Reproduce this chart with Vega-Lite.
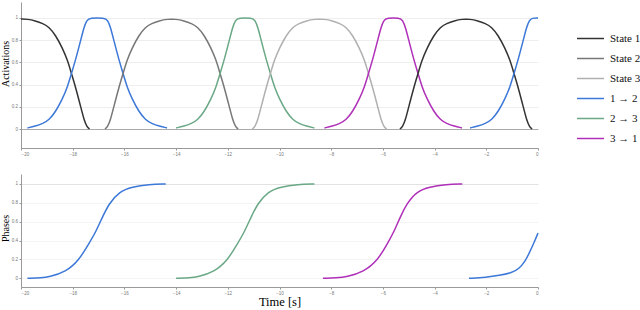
{
"$schema": "https://vega.github.io/schema/vega-lite/v6.json",
"padding": {"left": 0, "top": 2, "right": 0, "bottom": 0},
"background": "white",
"spacing": 26,
"bounds": "flush",
"config": {
  "font": "Liberation Serif",
  "view": {"stroke": null},
  "style": {"guide-label": {"font": "Liberation Serif"}},
  "axis": {"labelFont": "Liberation Sans", "labelFontSize": 4.5, "labelColor": "#777", "domainColor": "#999", "tickColor": "#999", "tickSize": 2, "labelPadding": 1.5, "titleFont": "Liberation Serif", "titleFontWeight": "normal", "titleColor": "#000", "format": "~g"},
  "legend": {"labelFont": "Liberation Serif", "labelFontSize": 11, "labelColor": "#111"},
  "line": {"strokeWidth": 1.5, "interpolate": "basis"}
},
"datasets": {
"act": [
{"t":-20,"v":0.99,"s":"State 1","g":"s1a"},{"t":-19.75,"v":0.99,"s":"State 1","g":"s1a"},{"t":-19.45,"v":0.975,"s":"State 1","g":"s1a"},{"t":-19.15,"v":0.95,"s":"State 1","g":"s1a"},{"t":-18.92,"v":0.92,"s":"State 1","g":"s1a"},{"t":-18.66,"v":0.844,"s":"State 1","g":"s1a"},{"t":-18.4,"v":0.73,"s":"State 1","g":"s1a"},{"t":-18.2,"v":0.62,"s":"State 1","g":"s1a"},{"t":-18.05,"v":0.5,"s":"State 1","g":"s1a"},{"t":-17.88,"v":0.37,"s":"State 1","g":"s1a"},{"t":-17.69,"v":0.2,"s":"State 1","g":"s1a"},{"t":-17.56,"v":0.08,"s":"State 1","g":"s1a"},{"t":-17.45,"v":0.02,"s":"State 1","g":"s1a"},{"t":-17.35,"v":0,"s":"State 1","g":"s1a"},
{"t":-19.75,"v":0.01,"s":"1 → 2","g":"b1"},{"t":-19.45,"v":0.025,"s":"1 → 2","g":"b1"},{"t":-19.15,"v":0.05,"s":"1 → 2","g":"b1"},{"t":-18.92,"v":0.08,"s":"1 → 2","g":"b1"},{"t":-18.66,"v":0.156,"s":"1 → 2","g":"b1"},{"t":-18.4,"v":0.27,"s":"1 → 2","g":"b1"},{"t":-18.2,"v":0.38,"s":"1 → 2","g":"b1"},{"t":-18.05,"v":0.5,"s":"1 → 2","g":"b1"},{"t":-17.88,"v":0.63,"s":"1 → 2","g":"b1"},{"t":-17.69,"v":0.8,"s":"1 → 2","g":"b1"},{"t":-17.56,"v":0.92,"s":"1 → 2","g":"b1"},{"t":-17.45,"v":0.98,"s":"1 → 2","g":"b1"},{"t":-17.35,"v":1,"s":"1 → 2","g":"b1"},{"t":-16.75,"v":1,"s":"1 → 2","g":"b1"},{"t":-16.65,"v":0.98,"s":"1 → 2","g":"b1"},{"t":-16.54,"v":0.92,"s":"1 → 2","g":"b1"},{"t":-16.41,"v":0.8,"s":"1 → 2","g":"b1"},{"t":-16.22,"v":0.63,"s":"1 → 2","g":"b1"},{"t":-16.05,"v":0.5,"s":"1 → 2","g":"b1"},{"t":-15.9,"v":0.38,"s":"1 → 2","g":"b1"},{"t":-15.7,"v":0.27,"s":"1 → 2","g":"b1"},{"t":-15.44,"v":0.156,"s":"1 → 2","g":"b1"},{"t":-15.18,"v":0.08,"s":"1 → 2","g":"b1"},{"t":-14.95,"v":0.05,"s":"1 → 2","g":"b1"},{"t":-14.65,"v":0.025,"s":"1 → 2","g":"b1"},{"t":-14.35,"v":0.01,"s":"1 → 2","g":"b1"},
{"t":-16.75,"v":0,"s":"State 2","g":"s2"},{"t":-16.65,"v":0.02,"s":"State 2","g":"s2"},{"t":-16.54,"v":0.08,"s":"State 2","g":"s2"},{"t":-16.41,"v":0.2,"s":"State 2","g":"s2"},{"t":-16.22,"v":0.37,"s":"State 2","g":"s2"},{"t":-16.05,"v":0.5,"s":"State 2","g":"s2"},{"t":-15.9,"v":0.62,"s":"State 2","g":"s2"},{"t":-15.7,"v":0.73,"s":"State 2","g":"s2"},{"t":-15.44,"v":0.844,"s":"State 2","g":"s2"},{"t":-15.18,"v":0.92,"s":"State 2","g":"s2"},{"t":-14.95,"v":0.95,"s":"State 2","g":"s2"},{"t":-14.65,"v":0.975,"s":"State 2","g":"s2"},{"t":-14.35,"v":0.99,"s":"State 2","g":"s2"},{"t":-14.0,"v":0.99,"s":"State 2","g":"s2"},{"t":-13.7,"v":0.975,"s":"State 2","g":"s2"},{"t":-13.4,"v":0.95,"s":"State 2","g":"s2"},{"t":-13.17,"v":0.92,"s":"State 2","g":"s2"},{"t":-12.91,"v":0.844,"s":"State 2","g":"s2"},{"t":-12.65,"v":0.73,"s":"State 2","g":"s2"},{"t":-12.45,"v":0.62,"s":"State 2","g":"s2"},{"t":-12.3,"v":0.5,"s":"State 2","g":"s2"},{"t":-12.13,"v":0.37,"s":"State 2","g":"s2"},{"t":-11.94,"v":0.2,"s":"State 2","g":"s2"},{"t":-11.81,"v":0.08,"s":"State 2","g":"s2"},{"t":-11.7,"v":0.02,"s":"State 2","g":"s2"},{"t":-11.6,"v":0,"s":"State 2","g":"s2"},
{"t":-14.0,"v":0.01,"s":"2 → 3","g":"g1"},{"t":-13.7,"v":0.025,"s":"2 → 3","g":"g1"},{"t":-13.4,"v":0.05,"s":"2 → 3","g":"g1"},{"t":-13.17,"v":0.08,"s":"2 → 3","g":"g1"},{"t":-12.91,"v":0.156,"s":"2 → 3","g":"g1"},{"t":-12.65,"v":0.27,"s":"2 → 3","g":"g1"},{"t":-12.45,"v":0.38,"s":"2 → 3","g":"g1"},{"t":-12.3,"v":0.5,"s":"2 → 3","g":"g1"},{"t":-12.13,"v":0.63,"s":"2 → 3","g":"g1"},{"t":-11.94,"v":0.8,"s":"2 → 3","g":"g1"},{"t":-11.81,"v":0.92,"s":"2 → 3","g":"g1"},{"t":-11.7,"v":0.98,"s":"2 → 3","g":"g1"},{"t":-11.6,"v":1,"s":"2 → 3","g":"g1"},{"t":-11.05,"v":1,"s":"2 → 3","g":"g1"},{"t":-10.95,"v":0.98,"s":"2 → 3","g":"g1"},{"t":-10.84,"v":0.92,"s":"2 → 3","g":"g1"},{"t":-10.71,"v":0.8,"s":"2 → 3","g":"g1"},{"t":-10.52,"v":0.63,"s":"2 → 3","g":"g1"},{"t":-10.35,"v":0.5,"s":"2 → 3","g":"g1"},{"t":-10.2,"v":0.38,"s":"2 → 3","g":"g1"},{"t":-10.0,"v":0.27,"s":"2 → 3","g":"g1"},{"t":-9.74,"v":0.156,"s":"2 → 3","g":"g1"},{"t":-9.48,"v":0.08,"s":"2 → 3","g":"g1"},{"t":-9.25,"v":0.05,"s":"2 → 3","g":"g1"},{"t":-8.95,"v":0.025,"s":"2 → 3","g":"g1"},{"t":-8.65,"v":0.01,"s":"2 → 3","g":"g1"},
{"t":-11.05,"v":0,"s":"State 3","g":"s3"},{"t":-10.95,"v":0.02,"s":"State 3","g":"s3"},{"t":-10.84,"v":0.08,"s":"State 3","g":"s3"},{"t":-10.71,"v":0.2,"s":"State 3","g":"s3"},{"t":-10.52,"v":0.37,"s":"State 3","g":"s3"},{"t":-10.35,"v":0.5,"s":"State 3","g":"s3"},{"t":-10.2,"v":0.62,"s":"State 3","g":"s3"},{"t":-10.0,"v":0.73,"s":"State 3","g":"s3"},{"t":-9.74,"v":0.844,"s":"State 3","g":"s3"},{"t":-9.48,"v":0.92,"s":"State 3","g":"s3"},{"t":-9.25,"v":0.95,"s":"State 3","g":"s3"},{"t":-8.95,"v":0.975,"s":"State 3","g":"s3"},{"t":-8.65,"v":0.99,"s":"State 3","g":"s3"},{"t":-8.26,"v":0.99,"s":"State 3","g":"s3"},{"t":-7.96,"v":0.975,"s":"State 3","g":"s3"},{"t":-7.66,"v":0.95,"s":"State 3","g":"s3"},{"t":-7.43,"v":0.92,"s":"State 3","g":"s3"},{"t":-7.17,"v":0.844,"s":"State 3","g":"s3"},{"t":-6.91,"v":0.73,"s":"State 3","g":"s3"},{"t":-6.71,"v":0.62,"s":"State 3","g":"s3"},{"t":-6.56,"v":0.5,"s":"State 3","g":"s3"},{"t":-6.39,"v":0.37,"s":"State 3","g":"s3"},{"t":-6.2,"v":0.2,"s":"State 3","g":"s3"},{"t":-6.07,"v":0.08,"s":"State 3","g":"s3"},{"t":-5.96,"v":0.02,"s":"State 3","g":"s3"},{"t":-5.86,"v":0,"s":"State 3","g":"s3"},
{"t":-8.26,"v":0.01,"s":"3 → 1","g":"m1"},{"t":-7.96,"v":0.025,"s":"3 → 1","g":"m1"},{"t":-7.66,"v":0.05,"s":"3 → 1","g":"m1"},{"t":-7.43,"v":0.08,"s":"3 → 1","g":"m1"},{"t":-7.17,"v":0.156,"s":"3 → 1","g":"m1"},{"t":-6.91,"v":0.27,"s":"3 → 1","g":"m1"},{"t":-6.71,"v":0.38,"s":"3 → 1","g":"m1"},{"t":-6.56,"v":0.5,"s":"3 → 1","g":"m1"},{"t":-6.39,"v":0.63,"s":"3 → 1","g":"m1"},{"t":-6.2,"v":0.8,"s":"3 → 1","g":"m1"},{"t":-6.07,"v":0.92,"s":"3 → 1","g":"m1"},{"t":-5.96,"v":0.98,"s":"3 → 1","g":"m1"},{"t":-5.86,"v":1,"s":"3 → 1","g":"m1"},{"t":-5.34,"v":1,"s":"3 → 1","g":"m1"},{"t":-5.24,"v":0.98,"s":"3 → 1","g":"m1"},{"t":-5.13,"v":0.92,"s":"3 → 1","g":"m1"},{"t":-5.0,"v":0.8,"s":"3 → 1","g":"m1"},{"t":-4.81,"v":0.63,"s":"3 → 1","g":"m1"},{"t":-4.64,"v":0.5,"s":"3 → 1","g":"m1"},{"t":-4.49,"v":0.38,"s":"3 → 1","g":"m1"},{"t":-4.29,"v":0.27,"s":"3 → 1","g":"m1"},{"t":-4.03,"v":0.156,"s":"3 → 1","g":"m1"},{"t":-3.77,"v":0.08,"s":"3 → 1","g":"m1"},{"t":-3.54,"v":0.05,"s":"3 → 1","g":"m1"},{"t":-3.24,"v":0.025,"s":"3 → 1","g":"m1"},{"t":-2.94,"v":0.01,"s":"3 → 1","g":"m1"},
{"t":-5.34,"v":0,"s":"State 1","g":"s1b"},{"t":-5.24,"v":0.02,"s":"State 1","g":"s1b"},{"t":-5.13,"v":0.08,"s":"State 1","g":"s1b"},{"t":-5.0,"v":0.2,"s":"State 1","g":"s1b"},{"t":-4.81,"v":0.37,"s":"State 1","g":"s1b"},{"t":-4.64,"v":0.5,"s":"State 1","g":"s1b"},{"t":-4.49,"v":0.62,"s":"State 1","g":"s1b"},{"t":-4.29,"v":0.73,"s":"State 1","g":"s1b"},{"t":-4.03,"v":0.844,"s":"State 1","g":"s1b"},{"t":-3.77,"v":0.92,"s":"State 1","g":"s1b"},{"t":-3.54,"v":0.95,"s":"State 1","g":"s1b"},{"t":-3.24,"v":0.975,"s":"State 1","g":"s1b"},{"t":-2.94,"v":0.99,"s":"State 1","g":"s1b"},{"t":-2.63,"v":0.99,"s":"State 1","g":"s1b"},{"t":-2.33,"v":0.975,"s":"State 1","g":"s1b"},{"t":-2.03,"v":0.95,"s":"State 1","g":"s1b"},{"t":-1.8,"v":0.92,"s":"State 1","g":"s1b"},{"t":-1.54,"v":0.844,"s":"State 1","g":"s1b"},{"t":-1.28,"v":0.73,"s":"State 1","g":"s1b"},{"t":-1.08,"v":0.62,"s":"State 1","g":"s1b"},{"t":-0.93,"v":0.5,"s":"State 1","g":"s1b"},{"t":-0.76,"v":0.37,"s":"State 1","g":"s1b"},{"t":-0.57,"v":0.2,"s":"State 1","g":"s1b"},{"t":-0.44,"v":0.08,"s":"State 1","g":"s1b"},{"t":-0.33,"v":0.02,"s":"State 1","g":"s1b"},{"t":-0.23,"v":0,"s":"State 1","g":"s1b"},
{"t":-2.63,"v":0.01,"s":"1 → 2","g":"b2"},{"t":-2.33,"v":0.025,"s":"1 → 2","g":"b2"},{"t":-2.03,"v":0.05,"s":"1 → 2","g":"b2"},{"t":-1.8,"v":0.08,"s":"1 → 2","g":"b2"},{"t":-1.54,"v":0.156,"s":"1 → 2","g":"b2"},{"t":-1.28,"v":0.27,"s":"1 → 2","g":"b2"},{"t":-1.08,"v":0.38,"s":"1 → 2","g":"b2"},{"t":-0.93,"v":0.5,"s":"1 → 2","g":"b2"},{"t":-0.76,"v":0.63,"s":"1 → 2","g":"b2"},{"t":-0.57,"v":0.8,"s":"1 → 2","g":"b2"},{"t":-0.44,"v":0.92,"s":"1 → 2","g":"b2"},{"t":-0.33,"v":0.98,"s":"1 → 2","g":"b2"},{"t":-0.23,"v":1,"s":"1 → 2","g":"b2"},{"t":0,"v":1,"s":"1 → 2","g":"b2"}
],
"ph": [
{"t":-19.75,"v":0,"s":"1 → 2","g":"p1"},{"t":-19.2,"v":0.005,"s":"1 → 2","g":"p1"},{"t":-18.92,"v":0.014,"s":"1 → 2","g":"p1"},{"t":-18.27,"v":0.067,"s":"1 → 2","g":"p1"},{"t":-17.76,"v":0.19,"s":"1 → 2","g":"p1"},{"t":-17.37,"v":0.37,"s":"1 → 2","g":"p1"},{"t":-17.11,"v":0.49,"s":"1 → 2","g":"p1"},{"t":-16.85,"v":0.65,"s":"1 → 2","g":"p1"},{"t":-16.6,"v":0.79,"s":"1 → 2","g":"p1"},{"t":-16.2,"v":0.92,"s":"1 → 2","g":"p1"},{"t":-15.7,"v":0.97,"s":"1 → 2","g":"p1"},{"t":-15.05,"v":0.995,"s":"1 → 2","g":"p1"},{"t":-14.4,"v":1,"s":"1 → 2","g":"p1"},
{"t":-14.0,"v":0,"s":"2 → 3","g":"p2"},{"t":-13.45,"v":0.005,"s":"2 → 3","g":"p2"},{"t":-13.17,"v":0.014,"s":"2 → 3","g":"p2"},{"t":-12.52,"v":0.067,"s":"2 → 3","g":"p2"},{"t":-12.01,"v":0.19,"s":"2 → 3","g":"p2"},{"t":-11.62,"v":0.37,"s":"2 → 3","g":"p2"},{"t":-11.36,"v":0.49,"s":"2 → 3","g":"p2"},{"t":-11.1,"v":0.65,"s":"2 → 3","g":"p2"},{"t":-10.85,"v":0.79,"s":"2 → 3","g":"p2"},{"t":-10.45,"v":0.92,"s":"2 → 3","g":"p2"},{"t":-9.95,"v":0.97,"s":"2 → 3","g":"p2"},{"t":-9.3,"v":0.995,"s":"2 → 3","g":"p2"},{"t":-8.65,"v":1,"s":"2 → 3","g":"p2"},
{"t":-8.32,"v":0,"s":"3 → 1","g":"p3"},{"t":-7.8,"v":0.005,"s":"3 → 1","g":"p3"},{"t":-7.4,"v":0.014,"s":"3 → 1","g":"p3"},{"t":-6.75,"v":0.067,"s":"3 → 1","g":"p3"},{"t":-6.2,"v":0.19,"s":"3 → 1","g":"p3"},{"t":-5.82,"v":0.37,"s":"3 → 1","g":"p3"},{"t":-5.58,"v":0.49,"s":"3 → 1","g":"p3"},{"t":-5.33,"v":0.65,"s":"3 → 1","g":"p3"},{"t":-5.08,"v":0.79,"s":"3 → 1","g":"p3"},{"t":-4.7,"v":0.92,"s":"3 → 1","g":"p3"},{"t":-4.2,"v":0.97,"s":"3 → 1","g":"p3"},{"t":-3.55,"v":0.995,"s":"3 → 1","g":"p3"},{"t":-2.93,"v":1,"s":"3 → 1","g":"p3"},
{"t":-2.67,"v":0,"s":"1 → 2","g":"p4"},{"t":-2.0,"v":0.01,"s":"1 → 2","g":"p4"},{"t":-1.5,"v":0.03,"s":"1 → 2","g":"p4"},{"t":-1.0,"v":0.06,"s":"1 → 2","g":"p4"},{"t":-0.74,"v":0.1,"s":"1 → 2","g":"p4"},{"t":-0.5,"v":0.18,"s":"1 → 2","g":"p4"},{"t":-0.35,"v":0.26,"s":"1 → 2","g":"p4"},{"t":-0.15,"v":0.38,"s":"1 → 2","g":"p4"},{"t":0,"v":0.48,"s":"1 → 2","g":"p4"}
]
},
"vconcat": [
{
  "width": 517, "height": 146,
  "data": {"name": "act"},
  "mark": {"type": "line"},
  "encoding": {
    "x": {"field": "t", "type": "quantitative", "scale": {"domain": [-20, 0], "nice": false},
          "axis": {"values": [-20,-18,-16,-14,-12,-10,-8,-6,-4,-2,0], "title": null, "grid": false}},
    "y": {"field": "v", "type": "quantitative", "scale": {"domain": [-0.171, 1.144], "nice": false, "zero": false},
          "axis": {"values": [0,0.2,0.4,0.6,0.8,1], "title": "Activations", "titleFontSize": 10, "titleAngle": 270, "titleX": -12.5, "titleY": 61.5, "titleBaseline": "alphabetic", "titleAlign": "center",
                   "grid": true, "gridColor": {"condition": {"test": "datum.value === 0", "value": "#aaaaaa"}, "value": "#eeeeee"}}},
    "color": {"field": "s", "type": "nominal",
      "scale": {"domain": ["State 1","State 2","State 3","1 → 2","2 → 3","3 → 1"], "range": ["#333333","#777777","#b0b0b0","#3c78d8","#6aa886","#b02fb8"]},
      "legend": {"orient": "none", "legendX": 555, "legendY": 22, "title": null, "symbolType": "stroke", "symbolStrokeWidth": 5, "symbolSize": 729, "rowPadding": -5.7, "labelFont": "Liberation Serif", "labelFontSize": 11, "labelColor": "#111", "labelOffset": 5}},
    "detail": {"field": "g", "type": "nominal"}
  }
},
{
  "width": 517, "height": 113,
  "data": {"name": "ph"},
  "mark": {"type": "line"},
  "encoding": {
    "x": {"field": "t", "type": "quantitative", "scale": {"domain": [-20, 0], "nice": false},
          "axis": {"values": [-20,-18,-16,-14,-12,-10,-8,-6,-4,-2,0], "title": "Time [s]", "titleFontSize": 12.5, "titleY": 18, "titleBaseline": "alphabetic", "grid": false}},
    "y": {"field": "v", "type": "quantitative", "scale": {"domain": [-0.092, 1.106], "nice": false, "zero": false},
          "axis": {"values": [0,0.2,0.4,0.6,0.8,1], "title": "Phases", "titleFontSize": 10, "titleAngle": 270, "titleX": -12.5, "titleY": 54, "titleBaseline": "alphabetic", "titleAlign": "center",
                   "grid": true, "gridColor": {"condition": {"test": "datum.value === 1", "value": "#e2e2e2"}, "value": "#f4f4f4"}}},
    "color": {"field": "s", "type": "nominal",
      "scale": {"domain": ["State 1","State 2","State 3","1 → 2","2 → 3","3 → 1"], "range": ["#333333","#777777","#b0b0b0","#3c78d8","#6aa886","#b02fb8"]},
      "legend": {"orient": "none", "legendX": 555, "legendY": 22, "title": null, "symbolType": "stroke", "symbolStrokeWidth": 5, "symbolSize": 729, "rowPadding": -5.7, "labelFont": "Liberation Serif", "labelFontSize": 11, "labelColor": "#111", "labelOffset": 5}},
    "detail": {"field": "g", "type": "nominal"}
  }
}
]
}
